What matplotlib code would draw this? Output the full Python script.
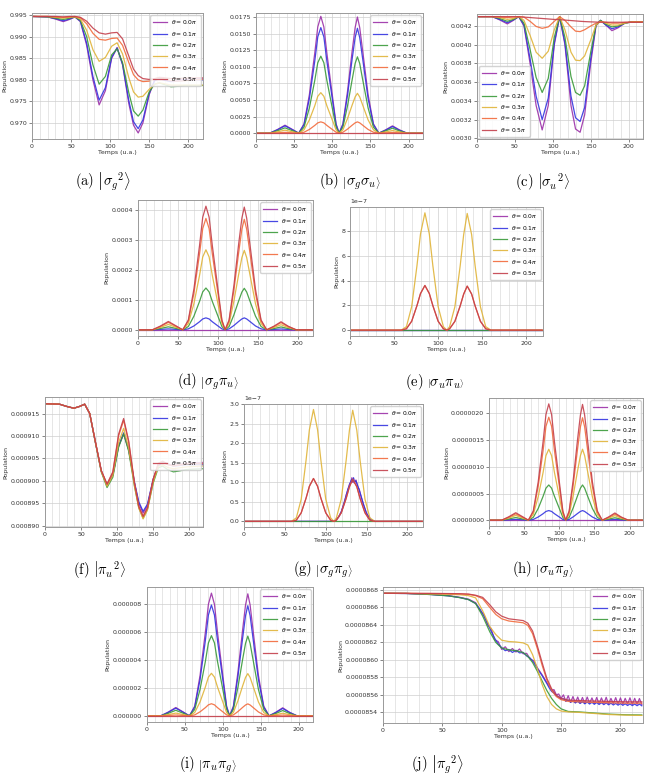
import numpy as np
import matplotlib
matplotlib.use('Agg')
from matplotlib import pyplot as plt
from matplotlib.ticker import MultipleLocator, FormatStrFormatter

# theta values / colours shared by all panels
thetas = [0.0, 0.1, 0.2, 0.3, 0.4, 0.5]
colors = ['#9b30a8', '#3434e0', '#3a9a3a', '#e0b43a', '#f26b3c', '#c4404c']

# ---- (a) |sigma_g^2>, (c) |sigma_u^2>, (f) |pi_u^2> : time grid
t_osc = [0, 20, 30, 40, 48, 55, 62, 70, 78, 86, 94, 102, 109, 116, 124, 130, 136, 142, 150, 157, 163, 170, 178, 186, 195, 205, 218]

a_th0 = [.9947, .9946, .9941, .9935, .9940, .9946, .9935, .9880, .9800, .9742, .9775, .9850, .9875, .9835, .9745, .9695, .9677, .9700, .9765, .9800, .9805, .9800, .9797, .9798, .9801, .9802, .9803]
a_th1 = [.9947, .9946, .9942, .9937, .9941, .9946, .9936, .9885, .9808, .9753, .9782, .9852, .9874, .9836, .9752, .9703, .9687, .9707, .9768, .9798, .9803, .9799, .9796, .9797, .9799, .9800, .9800]
a_th2 = [.9947, .9946, .9943, .9940, .9943, .9946, .9938, .9900, .9835, .9790, .9808, .9858, .9872, .9840, .9770, .9728, .9716, .9730, .9772, .9790, .9793, .9789, .9784, .9785, .9787, .9787, .9787]
a_th3 = [.9947, .9947, .9945, .9943, .9945, .9946, .9941, .9915, .9870, .9843, .9852, .9878, .9886, .9860, .9805, .9772, .9760, .9762, .9778, .9790, .9793, .9791, .9788, .9788, .9788, .9788, .9788]
a_th4 = [.9947, .9947, .9946, .9945, .9946, .9947, .9944, .9930, .9908, .9894, .9892, .9896, .9897, .9880, .9840, .9812, .9800, .9796, .9797, .9802, .9805, .9802, .9798, .9797, .9798, .9800, .9801]
a_th5 = [.9947, .9947, .9947, .9946, .9947, .9947, .9945, .9936, .9920, .9909, .9906, .9909, .9910, .9895, .9855, .9825, .9810, .9803, .9801, .9803, .9806, .9805, .9803, .9803, .9804, .9805, .9805]

# (c) in units of 1e-5
c_th0 = [430, 430, 426.5, 422.2, 426, 430, 420, 380, 335, 309, 335, 400, 430, 400, 335, 310, 306.5, 325, 380, 420, 426, 421, 415, 418, 423, 424.5, 424.5]
c_th1 = [430, 430, 427, 423.5, 426.5, 430, 421, 385, 345, 320, 343, 402, 430, 402, 345, 322, 318, 333, 385, 421, 426, 421, 417, 419, 423, 424.5, 424.5]
c_th2 = [430, 430, 428, 425, 427, 430, 423, 395, 365, 349, 364, 408, 430, 408, 366, 349, 346, 356, 392, 421, 426, 422, 419, 420, 423, 424.5, 424.5]
c_th3 = [430, 430, 429, 427, 428, 430, 426, 410, 392, 385.5, 393, 416, 430, 416, 392, 383.5, 383, 388, 405, 421, 425, 423, 421, 421, 423, 424.5, 424.5]
c_th4 = [430, 430, 429.5, 429, 429.5, 430, 429.5, 425, 419.5, 417.5, 419, 425, 430, 426, 419, 414.5, 414, 416, 420, 423, 424.5, 424, 423, 423, 423.8, 424.2, 424.2]
c_th5 = [430, 430, 430, 430, 430, 429.8, 429.5, 429, 428.5, 428, 427.5, 427, 426.8, 426.3, 425.8, 425.4, 425, 424.7, 424.4, 424.2, 424, 424, 424, 424, 424, 424, 424]

# (f) in units of 1e-6
f_th0 = [917.2, 917.1, 916.6, 916.2, 916.6, 917.1, 915.0, 908.5, 902.2, 899.0, 901.3, 907.8, 910.4, 906.9, 899.5, 895.0, 892.8, 894.5, 900.3, 903.4, 904.2, 903.8, 903.4, 903.6, 903.9, 904.0, 904.1]
f_th1 = [917.2, 917.1, 916.6, 916.2, 916.6, 917.1, 915.0, 908.5, 902.2, 899.0, 901.2, 907.7, 910.7, 907.0, 899.7, 895.3, 893.2, 894.8, 900.4, 903.3, 904.1, 903.7, 903.3, 903.4, 903.6, 903.6, 903.6]
f_th2 = [917.2, 917.1, 916.6, 916.2, 916.6, 917.1, 915.0, 908.4, 902.0, 898.5, 900.8, 907.5, 910.5, 906.6, 898.8, 894.0, 891.7, 893.6, 899.5, 902.9, 903.3, 902.5, 902.0, 902.2, 902.5, 902.6, 902.7]
f_th3 = [917.2, 917.1, 916.6, 916.2, 916.6, 917.1, 915.0, 908.5, 902.1, 898.8, 901.2, 908.5, 911.7, 907.3, 898.9, 893.9, 891.5, 893.5, 899.8, 903.2, 903.6, 903.0, 902.7, 902.9, 903.1, 903.2, 903.3]
f_th4 = [917.2, 917.1, 916.6, 916.2, 916.6, 917.1, 915.0, 908.6, 902.3, 899.2, 901.8, 910.0, 913.5, 908.6, 899.4, 894.2, 892.0, 893.9, 900.3, 903.8, 904.3, 903.6, 903.3, 903.5, 903.7, 903.8, 903.9]
f_th5 = [917.2, 917.1, 916.6, 916.2, 916.6, 917.1, 915.0, 908.6, 902.3, 899.3, 902.0, 910.4, 913.9, 908.9, 899.6, 894.3, 892.1, 894.0, 900.4, 903.9, 904.4, 903.7, 903.4, 903.6, 903.8, 903.9, 903.8]

# ---- bump panels (b), (d), (h), (i) : time grid
t_bump = [0, 18, 28, 38, 48, 56, 63, 70, 77, 81, 85, 89, 93, 100, 105, 109, 114, 120, 126, 130, 133, 136, 140, 147, 154, 161, 170, 179, 188, 198, 218]
zero_bump = [0] * len(t_bump)

# (b) units 1e-4
b_th0 = [0, 0, 5.4, 12, 5.4, 0, 14, 58, 120, 160, 176, 160, 120, 58, 14, 0, 14, 63, 123, 159, 175, 159, 123, 58, 14, 0, 5.0, 11, 5.0, 0, 0]
b_th1 = [0, 0, 5.0, 11, 5.0, 0, 13, 52, 108, 145, 159, 145, 108, 52, 13, 0, 13, 57, 111, 144, 158, 144, 111, 52, 13, 0, 4.5, 10, 4.5, 0, 0]
b_th2 = [0, 0, 3.6, 8, 3.6, 0, 9, 38, 79, 106, 116, 106, 79, 38, 9, 0, 9, 41, 80, 105, 115, 105, 80, 38, 9, 0, 3.4, 7.5, 3.4, 0, 0]
b_th3 = [0, 0, 2.0, 4.5, 2.0, 0, 5, 20, 41, 55.5, 61, 55.5, 41, 20, 5, 0, 5, 22, 42, 54.6, 60, 54.6, 42, 20, 5, 0, 1.8, 4, 1.8, 0, 0]
b_th4 = [0, 0, 0.5, 1.2, 0.5, 0, 1.4, 5.6, 11.6, 15.5, 17, 15.5, 11.6, 5.6, 1.4, 0, 1.4, 6.1, 11.9, 15.5, 17, 15.5, 11.9, 5.6, 1.4, 0, 0.5, 1.1, 0.5, 0, 0]
b_th5 = zero_bump

# (d) units 1e-5
d_th0 = zero_bump
d_th1 = [0, 0, 0.14, 0.3, 0.14, 0, 0.32, 1.3, 2.7, 3.64, 4.0, 3.64, 2.7, 1.3, 0.32, 0, 0.32, 1.44, 2.8, 3.64, 4.0, 3.64, 2.8, 1.3, 0.32, 0, 0.13, 0.28, 0.13, 0, 0]
d_th2 = [0, 0, 0.45, 1.0, 0.45, 0, 1.1, 4.6, 9.5, 12.7, 14.0, 12.7, 9.5, 4.6, 1.1, 0, 1.1, 5.0, 9.7, 12.65, 13.9, 12.65, 9.7, 4.6, 1.1, 0, 0.43, 0.95, 0.43, 0, 0]
d_th3 = [0, 0, 0.8, 1.8, 0.8, 0, 2.1, 8.8, 18.2, 24.4, 26.8, 24.4, 18.2, 8.8, 2.1, 0, 2.1, 9.6, 18.6, 24.2, 26.6, 24.2, 18.6, 8.8, 2.1, 0, 0.77, 1.7, 0.77, 0, 0]
d_th4 = [0, 0, 1.1, 2.5, 1.1, 0, 3.0, 12.3, 25.4, 33.9, 37.3, 33.9, 25.4, 12.3, 3.0, 0, 3.0, 13.3, 25.9, 33.7, 37.0, 33.7, 25.9, 12.2, 3.0, 0, 1.08, 2.4, 1.08, 0, 0]
d_th5 = [0, 0, 1.26, 2.8, 1.26, 0, 3.3, 13.7, 28.2, 37.7, 41.4, 37.7, 28.2, 13.7, 3.3, 0, 3.3, 14.8, 28.8, 37.4, 41.1, 37.4, 28.8, 13.6, 3.3, 0, 1.2, 2.7, 1.2, 0, 0]

# (h) units 1e-7
h_th0 = zero_bump
h_th1 = [0, 0, 0.07, 0.15, 0.07, 0, 0.14, 0.6, 1.22, 1.64, 1.8, 1.64, 1.22, 0.6, 0.14, 0, 0.14, 0.65, 1.26, 1.64, 1.8, 1.64, 1.26, 0.6, 0.14, 0, 0.06, 0.14, 0.06, 0, 0]
h_th2 = [0, 0, 0.22, 0.5, 0.22, 0, 0.53, 2.2, 4.5, 6.0, 6.6, 6.0, 4.5, 2.2, 0.53, 0, 0.53, 2.4, 4.6, 6.0, 6.6, 6.0, 4.6, 2.2, 0.53, 0, 0.2, 0.45, 0.2, 0, 0]
h_th3 = [0, 0, 0.4, 0.9, 0.4, 0, 1.06, 4.4, 9.0, 12.1, 13.3, 12.1, 9.0, 4.4, 1.06, 0, 1.06, 4.8, 9.3, 12.1, 13.3, 12.1, 9.3, 4.4, 1.06, 0, 0.38, 0.85, 0.38, 0, 0]
h_th4 = [0, 0, 0.54, 1.2, 0.54, 0, 1.54, 6.4, 13.1, 17.6, 19.3, 17.6, 13.1, 6.4, 1.54, 0, 1.54, 6.9, 13.4, 17.5, 19.2, 17.5, 13.4, 6.3, 1.54, 0, 0.52, 1.15, 0.52, 0, 0]
h_th5 = [0, 0, 0.63, 1.4, 0.63, 0, 1.74, 7.2, 14.8, 19.8, 21.8, 19.8, 14.8, 7.2, 1.74, 0, 1.74, 7.8, 15.2, 19.7, 21.7, 19.7, 15.2, 7.2, 1.74, 0, 0.6, 1.35, 0.6, 0, 0]

# (i) units 1e-6
i_th0 = [0, 0, 0.27, 0.6, 0.27, 0, 0.7, 2.9, 6.0, 8.0, 8.8, 8.0, 6.0, 2.9, 0.7, 0, 0.7, 3.15, 6.1, 7.96, 8.75, 7.96, 6.1, 2.9, 0.7, 0, 0.26, 0.58, 0.26, 0, 0]
i_th1 = [0, 0, 0.25, 0.55, 0.25, 0, 0.64, 2.6, 5.4, 7.23, 7.95, 7.23, 5.4, 2.6, 0.64, 0, 0.63, 2.84, 5.5, 7.19, 7.9, 7.19, 5.5, 2.6, 0.63, 0, 0.24, 0.53, 0.24, 0, 0]
i_th2 = [0, 0, 0.18, 0.4, 0.18, 0, 0.46, 1.9, 3.9, 5.23, 5.75, 5.23, 3.9, 1.9, 0.46, 0, 0.46, 2.06, 4.0, 5.2, 5.72, 5.2, 4.0, 1.9, 0.46, 0, 0.17, 0.38, 0.17, 0, 0]
i_th3 = [0, 0, 0.09, 0.2, 0.09, 0, 0.24, 1.0, 2.07, 2.78, 3.05, 2.78, 2.07, 1.0, 0.24, 0, 0.24, 1.09, 2.12, 2.76, 3.03, 2.76, 2.12, 1.0, 0.24, 0, 0.09, 0.19, 0.09, 0, 0]
i_th4 = [0, 0, 0.03, 0.06, 0.03, 0, 0.07, 0.29, 0.59, 0.79, 0.87, 0.79, 0.59, 0.29, 0.07, 0, 0.07, 0.31, 0.6, 0.78, 0.86, 0.78, 0.6, 0.28, 0.07, 0, 0.03, 0.055, 0.03, 0, 0]
i_th5 = zero_bump

# ---- narrow bump panels (e), (g) : units 1e-7
t_narrow = [0, 40, 58, 64, 70, 76, 80, 85, 90, 94, 100, 106, 110, 113, 119, 125, 129, 133, 138, 142, 148, 154, 160, 218]
zero_narrow = [0] * len(t_narrow)

e_th3 = [0, 0, 0, 0.28, 1.9, 5.2, 7.75, 9.45, 7.75, 5.2, 1.9, 0.28, 0, 0.28, 1.88, 5.17, 7.7, 9.4, 7.7, 5.17, 1.88, 0.28, 0, 0]
e_th4 = [0, 0, 0, 0.11, 0.72, 1.98, 2.95, 3.6, 2.95, 1.98, 0.72, 0.11, 0, 0.11, 0.71, 1.95, 2.91, 3.55, 2.91, 1.95, 0.71, 0.11, 0, 0]
e_th5 = [0, 0, 0, 0.11, 0.72, 1.98, 2.95, 3.6, 2.95, 1.98, 0.72, 0.11, 0, 0.11, 0.71, 1.95, 2.91, 3.55, 2.91, 1.95, 0.71, 0.11, 0, 0]

g_th3 = [0, 0, 0, 0.09, 0.57, 1.58, 2.35, 2.87, 2.35, 1.58, 0.57, 0.09, 0, 0.09, 0.57, 1.57, 2.34, 2.85, 2.34, 1.57, 0.57, 0.09, 0, 0]
g_th4 = [0, 0, 0, 0.03, 0.22, 0.6, 0.9, 1.1, 0.9, 0.6, 0.22, 0.03, 0, 0.03, 0.22, 0.59, 0.89, 1.08, 0.89, 0.59, 0.22, 0.03, 0, 0]
g_th5 = [0, 0, 0, 0.03, 0.22, 0.6, 0.9, 1.1, 0.9, 0.6, 0.22, 0.03, 0, 0.03, 0.22, 0.59, 0.89, 1.08, 0.89, 0.59, 0.22, 0.03, 0, 0]
# noisy second bump for theta = 0.0 / 0.1
t_g_noisy = [0, 108, 112, 116, 119, 121, 123, 125, 127, 129, 131, 132, 133, 134, 135, 137, 139, 141, 143, 146, 150, 155, 160, 218]
g_th0 = [0, 0, 0.02, 0.12, 0.24, 0.38, 0.5, 0.68, 0.8, 0.95, 1.02, 1.12, 1.0, 1.1, 0.98, 1.06, 0.9, 0.82, 0.66, 0.45, 0.2, 0.05, 0, 0]
g_th1 = [0, 0, 0.02, 0.12, 0.25, 0.37, 0.52, 0.66, 0.82, 0.93, 1.05, 1.08, 1.03, 1.12, 1.0, 1.04, 0.92, 0.8, 0.66, 0.44, 0.2, 0.05, 0, 0]

# ---- (j) |pi_g^2> : units 1e-5
t_j = [0, 20, 40, 55, 65, 72, 78, 84, 90, 95, 100, 106, 112, 118, 122, 126, 130, 134, 138, 142, 146, 150, 156, 165, 175, 190, 205, 218]
j_th2 = [8.6762, 8.6760, 8.6748, 8.6733, 8.6712, 8.6690, 8.6645, 8.6500, 8.6320, 8.6200, 8.6135, 8.6115, 8.6105, 8.6085, 8.6040, 8.5970, 8.5870, 8.5760, 8.5650, 8.5560, 8.5490, 8.5440, 8.5410, 8.5405, 8.5395, 8.5380, 8.5372, 8.5370]
j_th3 = [8.6762, 8.6761, 8.6755, 8.6750, 8.6745, 8.6735, 8.6710, 8.6560, 8.6380, 8.6290, 8.6225, 8.6210, 8.6205, 8.6195, 8.6170, 8.6060, 8.5900, 8.5720, 8.5580, 8.5490, 8.5440, 8.5415, 8.5405, 8.5400, 8.5390, 8.5375, 8.5368, 8.5365]
j_th4 = [8.6762, 8.6761, 8.6760, 8.6758, 8.6755, 8.6750, 8.6735, 8.6700, 8.6600, 8.6520, 8.6470, 8.6445, 8.6435, 8.6425, 8.6395, 8.6300, 8.6130, 8.5940, 8.5770, 8.5650, 8.5580, 8.5545, 8.5525, 8.5520, 8.5515, 8.5510, 8.5505, 8.5505]
j_th5 = [8.6762, 8.6761, 8.6760, 8.6759, 8.6757, 8.6753, 8.6740, 8.6715, 8.6630, 8.6550, 8.6500, 8.6470, 8.6460, 8.6450, 8.6420, 8.6330, 8.6160, 8.5970, 8.5790, 8.5670, 8.5595, 8.5560, 8.5540, 8.5535, 8.5530, 8.5525, 8.5520, 8.5520]
t_j_noisy = [0, 20, 40, 55, 65, 72, 78, 82, 85, 88, 91, 94, 97, 100, 103, 106, 109, 112, 115, 118, 121, 124, 127, 130, 134, 138,
             140, 142, 144, 146, 148, 150, 152, 154, 156, 158, 160, 162, 164, 166, 168, 170, 172, 174, 176, 178,
             180, 182, 184, 186, 188, 190, 192, 194, 196, 198, 200, 202, 204, 206, 208, 210, 212, 214, 216, 218]
j_th0 = [8.6762, 8.6760, 8.6750, 8.6735, 8.6715, 8.6695, 8.6655, 8.6560, 8.6520, 8.6400, 8.6360, 8.6230, 8.6210, 8.6120, 8.6150, 8.6095, 8.6130, 8.6090, 8.6125, 8.6070, 8.6075, 8.6010, 8.5990, 8.5910, 8.5830, 8.5740,
         8.5700, 8.5650, 8.5660, 8.5600, 8.5610, 8.5560, 8.5600, 8.5525, 8.5590, 8.5515, 8.5580, 8.5510, 8.5575, 8.5505, 8.5570, 8.5500, 8.5575, 8.5505, 8.5565, 8.5500,
         8.5570, 8.5498, 8.5565, 8.5500, 8.5572, 8.5495, 8.5560, 8.5498, 8.5568, 8.5495, 8.5565, 8.5492, 8.5560, 8.5495, 8.5566, 8.5490, 8.5560, 8.5492, 8.5558, 8.5490]
j_th1 = [8.6762, 8.6760, 8.6748, 8.6733, 8.6712, 8.6690, 8.6645, 8.6575, 8.6500, 8.6420, 8.6330, 8.6250, 8.6180, 8.6140, 8.6105, 8.6120, 8.6085, 8.6110, 8.6080, 8.6085, 8.6045, 8.6020, 8.5970, 8.5900, 8.5820, 8.5730,
         8.5680, 8.5640, 8.5620, 8.5590, 8.5575, 8.5550, 8.5555, 8.5530, 8.5540, 8.5515, 8.5530, 8.5508, 8.5525, 8.5502, 8.5520, 8.5498, 8.5518, 8.5495, 8.5515, 8.5492,
         8.5512, 8.5490, 8.5510, 8.5488, 8.5508, 8.5486, 8.5505, 8.5484, 8.5502, 8.5482, 8.5500, 8.5480, 8.5498, 8.5478, 8.5496, 8.5477, 8.5495, 8.5476, 8.5494, 8.5475]

labels = [r'$\theta = %.1f\pi$' % th for th in thetas]

W, H = 651, 780
fig = plt.figure(figsize=(W / 100, H / 100), dpi=100)


def panel(l, t, r, b, ylim, ystep, yfmt=None, loc='upper right', xmax=219):
    ax = fig.add_axes([l / W, 1 - b / H, (r - l) / W, (b - t) / H])
    ax.set_xlim(0, xmax)
    ax.set_ylim(*ylim)
    ax.xaxis.set_major_locator(MultipleLocator(50))
    ax.xaxis.set_minor_locator(MultipleLocator(10))
    ax.yaxis.set_major_locator(MultipleLocator(ystep))
    if yfmt:
        ax.yaxis.set_major_formatter(FormatStrFormatter(yfmt))
    ax.grid(True, which='major', color='#cfcfcf', lw=0.5)
    ax.grid(True, which='minor', axis='x', color='#dcdcdc', lw=0.5)
    ax.set_axisbelow(True)
    ax.tick_params(labelsize=4.5, length=2, width=0.5, pad=1.5, labelcolor='#333333', color='#555555')
    ax.tick_params(which='minor', length=0)
    for s in ax.spines.values():
        s.set_color('#9a9a9a')
        s.set_linewidth(0.7)
    ax.set_xlabel('Temps (u.a.)', fontsize=4.5, labelpad=1, color='#333333')
    ax.set_ylabel('Population', fontsize=4.5, labelpad=1.5, color='#333333')
    ax.yaxis.get_offset_text().set_fontsize(4.5)
    ax._loc = loc
    return ax


def draw(ax, ts, ys, scale):
    for k in range(6):
        ax.plot(ts[k], np.array(ys[k]) * scale, color=colors[k], lw=0.9, alpha=0.9, label=labels[k])
    ax.legend(loc=ax._loc, fontsize=4.3, frameon=True, edgecolor='#cccccc', framealpha=0.85,
              handlelength=2.2, borderpad=0.5, labelspacing=0.55, borderaxespad=0.4)


def caption(x, y, s):
    fig.text(x / W, 1 - y / H, s, ha='center', va='center', fontsize=10.5, math_fontfamily='cm')


ax = panel(32, 13, 203, 139, (0.9663, 0.9955), 0.005, '%.3f')
draw(ax, [t_osc] * 6, [a_th0, a_th1, a_th2, a_th3, a_th4, a_th5], 1)
caption(103, 182, r'$\mathrm{(a)}\ \left|\sigma_g{}^2\right\rangle$')

ax = panel(256, 13, 423, 139, (-0.00088, 0.0181), 0.0025, '%.4f')
draw(ax, [t_bump] * 6, [b_th0, b_th1, b_th2, b_th3, b_th4, b_th5], 1e-4)
caption(350, 182, r'$\mathrm{(b)}\ \left|\sigma_g\sigma_u\right\rangle$')

ax = panel(477, 14, 643, 139, (0.002993, 0.004328), 0.0002, '%.4f', loc='lower left')
draw(ax, [t_osc] * 6, [c_th0, c_th1, c_th2, c_th3, c_th4, c_th5], 1e-5)
caption(543, 182, r'$\mathrm{(c)}\ \left|\sigma_u{}^2\right\rangle$')

ax = panel(138, 200, 313, 336, (-0.0000207, 0.0004347), 0.0001, '%.4f')
draw(ax, [t_bump] * 6, [d_th0, d_th1, d_th2, d_th3, d_th4, d_th5], 1e-5)
caption(208, 382, r'$\mathrm{(d)}\ \left|\sigma_g\pi_u\right\rangle$')

ax = panel(350, 207, 543, 336, (-0.47e-7, 9.92e-7), 2e-7)
draw(ax, [t_narrow] * 6, [zero_narrow, zero_narrow, zero_narrow, e_th3, e_th4, e_th5], 1e-7)
caption(435, 382, r'$\mathrm{(e)}\ \left|\sigma_u\pi_u\right\rangle$')

ax = panel(45, 397, 203, 527, (0.0008897, 0.0009187), 0.000005, '%.6f')
draw(ax, [t_osc] * 6, [f_th0, f_th1, f_th2, f_th3, f_th4, f_th5], 1e-6)
caption(100, 570, r'$\mathrm{(f)}\ \left|\pi_u{}^2\right\rangle$')

ax = panel(244, 404, 423, 527, (-0.144e-7, 3.01e-7), 0.5e-7)
draw(ax, [t_g_noisy, t_g_noisy] + [t_narrow] * 4, [g_th0, g_th1, zero_narrow, g_th3, g_th4, g_th5], 1e-7)
caption(323, 570, r'$\mathrm{(g)}\ \left|\sigma_g\pi_g\right\rangle$')

ax = panel(489, 398, 643, 526, (-0.109e-6, 2.29e-6), 0.5e-6, '%.7f')
draw(ax, [t_bump] * 6, [h_th0, h_th1, h_th2, h_th3, h_th4, h_th5], 1e-7)
caption(543, 570, r'$\mathrm{(h)}\ \left|\sigma_u\pi_g\right\rangle$')

ax = panel(147, 587, 313, 722, (-0.44e-6, 9.24e-6), 2e-6, '%.6f')
draw(ax, [t_bump] * 6, [i_th0, i_th1, i_th2, i_th3, i_th4, i_th5], 1e-6)
caption(208, 765, r'$\mathrm{(i)}\ \left|\pi_u\pi_g\right\rangle$')

ax = panel(383, 587, 643, 723, (8.5278e-5, 8.6834e-5), 2e-7, '%.7f')
draw(ax, [t_j_noisy, t_j_noisy] + [t_j] * 4, [j_th0, j_th1, j_th2, j_th3, j_th4, j_th5], 1e-5)
caption(438, 765, r'$\mathrm{(j)}\ \left|\pi_g{}^2\right\rangle$')

fig.savefig('out.png', dpi=100)
